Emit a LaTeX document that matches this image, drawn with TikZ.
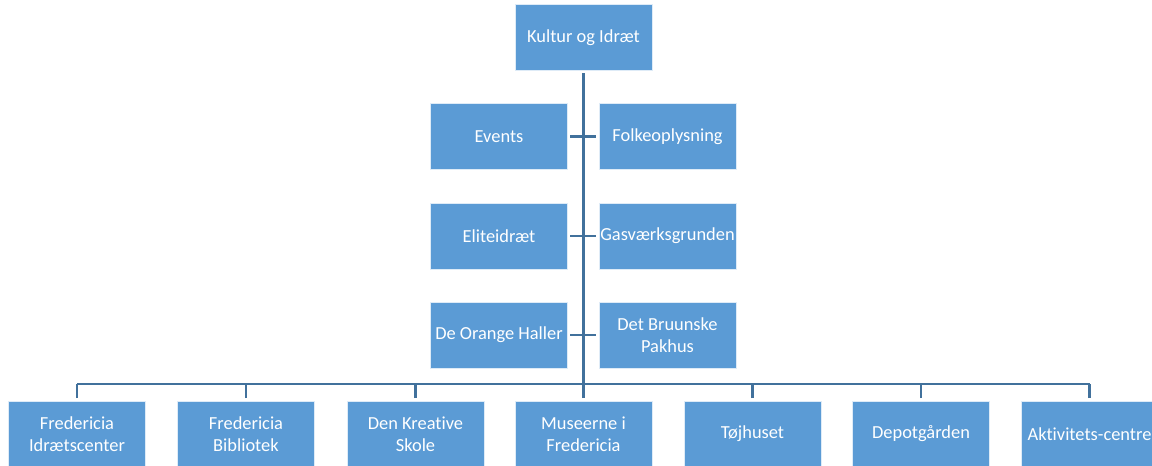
\documentclass[tikz,border=0pt]{standalone}
\usepackage{fontspec}
\setmainfont[Ligatures={NoCommon}]{Carlito}
\usepackage{tikz}
\usetikzlibrary{positioning}

\definecolor{boxblue}{HTML}{5B9BD5}
\definecolor{lineblue}{HTML}{41719C}

\begin{document}
\begin{tikzpicture}[x=0.75pt, y=-0.75pt,
                    every node/.style={rectangle, fill=boxblue, draw=white!80!boxblue, line width=0.6pt,
                                       minimum width=102.75pt, minimum height=49.5pt, inner sep=1pt,
                                       outer sep=2.2pt, align=center, text=white,
                                       font=\fontsize{13.8}{16.5}\selectfont},
                    link/.style={draw=lineblue, line width=1.9pt}]
      \useasboundingbox (0,0) rectangle (1152,466);

      % Nodes
      \node (kultur) at (583.5,37.5) {Kultur og Idræt};

      \node (events) at (499,136.5) {Events};
      \node (folk)   at (667.5,136.5) {Folkeoplysning};
      \node (elite)  at (499,236) {Eliteidræt};
      \node (gas)    at (667.5,236) {Gasværksgrunden};
      \node (orange) at (499,335) {De Orange Haller};
      \node (pakhus) at (667.5,335) {Det Bruunske\\Pakhus};

      \node (idraet)  at (77,434)    {Fredericia\\Idrætscenter};
      \node (bib)     at (246,434)   {Fredericia\\Bibliotek};
      \node (skole)   at (415.5,434) {Den Kreative\\Skole};
      \node (museer)  at (583.5,434) {Museerne i\\Fredericia};
      \node (tojhus)  at (752.5,434) {Tøjhuset};
      \node (depot)   at (921,434)   {Depotgården};
      \node (aktiv)   at (1089.5,434) {Aktivitets-centre};

      \coordinate (bar) at (583.5,384);

      % Edges
      \draw[link] (kultur) -- (bar);
      \draw[link] (events) -- (folk);
      \draw[link] (elite) -- (gas);
      \draw[link] (orange) -- (pakhus);
      \draw[link] (idraet |- bar) -- (aktiv |- bar);
      \draw[link] (idraet) -- (idraet |- bar);
      \draw[link] (bib) -- (bib |- bar);
      \draw[link] (skole) -- (skole |- bar);
      \draw[link] (museer) -- (bar);
      \draw[link] (tojhus) -- (tojhus |- bar);
      \draw[link] (depot) -- (depot |- bar);
      \draw[link] (aktiv) -- (aktiv |- bar);

    \end{tikzpicture}
\end{document}
